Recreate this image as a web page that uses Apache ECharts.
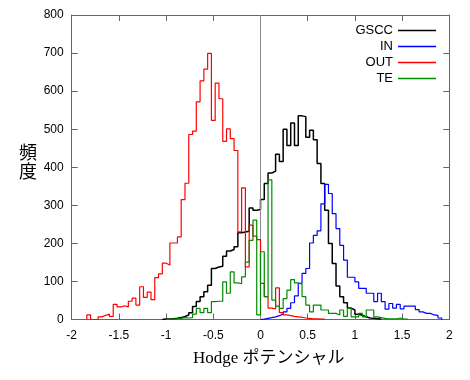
<!DOCTYPE html>
<html><head><meta charset="utf-8">
<script src="https://cdn.jsdelivr.net/npm/echarts@6/dist/echarts.min.js"></script>
<style>html,body{margin:0;padding:0;background:#fff}#c{width:470px;height:380px}</style>
</head><body><div id="c"></div>
<script>
// Histogram bins: width 0.04, first edge of each series given separately
const BIN_WIDTH = 0.04;
const X_TICKS = [-2, -1.5, -1, -0.5, 0, 0.5, 1, 1.5, 2];
const Y_TICKS = [0, 100, 200, 300, 400, 500, 600, 700, 800];
const SERIES_NAMES = ['GSCC', 'IN', 'OUT', 'TE'];

const GSCC_START = -1.04;
const GSCC = [1,1,2,3,5,8,12,18,34,47,60,73,90,134,138,140,166,180,184,191,228,230,232,293,287,289,315,357,385,390,434,415,500,457,516,457,535,533,479,497,472,410,357,287,200,147,88,60,44,30,25,14,11,7,4,3,2,1];

const IN_START = 0.00;
const IN = [1,3,5,7,10,14,20,29,44,62,95,121,134,201,221,233,304,355,331,278,239,195,156,111,111,99,82,82,69,69,47,69,47,27,42,30,40,28,35,35,35,26,20,16,16,12,11,4];

const OUT_START = -1.84;
const OUT = [12,0,0,7,11,14,8,40,33,36,33,48,56,38,86,58,72,52,110,120,148,143,201,201,217,315,358,486,495,572,627,658,699,523,621,580,468,501,475,444,230,346,138,248,219,210,95,60,30,28,83,18,12,10,8,7,6,4,3,2,2,1,1];

const TE_START = -1.00;
const TE = [1,1,2,3,5,4,5,14,29,18,29,18,47,48,48,99,69,125,96,94,112,151,208,261,12,178,60,367,51,35,29,55,77,105,96,93,60,38,20,38,38,25,25,16,16,12,25,8,29,7,7,16,7,25,25,7,5,3,2,2,2,4,2,1];

const COLORS = ['#000000', '#0000ff', '#ff0000', '#008a00'];

function steps(start, counts) {
  const pts = [[start, 0]];
  for (let i = 0; i < counts.length; i++) pts.push([start + i * BIN_WIDTH, counts[i]]);
  pts.push([start + counts.length * BIN_WIDTH, 0]);
  return pts;
}

const chart = echarts.init(document.getElementById('c'), null, {renderer: 'canvas'});
const tickFont = {fontFamily: 'Liberation Sans, Arial, sans-serif', fontSize: 12, color: '#000'};
const frame = {lineStyle: {color: '#666', width: 1}};
function xAx(pos, show) {
  return {type: 'value', position: pos, min: X_TICKS[0], max: X_TICKS[X_TICKS.length-1], interval: 0.5,
    axisLine: {show: true, onZero: false, ...frame}, axisTick: {show: true, inside: true, length: 6, lineStyle: {color: '#666'}},
    splitLine: {show: false},
    axisLabel: show ? {...tickFont, margin: 10, formatter: v => String(v)} : {show: false}};
}
function yAx(pos, show) {
  return {type: 'value', position: pos, min: Y_TICKS[0], max: Y_TICKS[Y_TICKS.length-1], interval: 100,
    axisLine: {show: true, onZero: false, ...frame}, axisTick: {show: true, inside: true, length: 6, lineStyle: {color: '#666'}},
    splitLine: {show: false},
    axisLabel: show ? {...tickFont, margin: 8} : {show: false}};
}
const starts = [GSCC_START, IN_START, OUT_START, TE_START];
const counts = [GSCC, IN, OUT, TE];
const series = SERIES_NAMES.map((n, i) => ({
  name: n, type: 'line', step: 'end', symbol: 'none', data: steps(starts[i], counts[i]),
  lineStyle: {color: COLORS[i], width: i === 0 ? 1.5 : 1.2}, itemStyle: {color: COLORS[i]},
  animation: false, z: 3 + i
}));
series[0].markLine = {silent: true, symbol: 'none', label: {show: false},
  lineStyle: {color: '#888', width: 1, type: 'solid'}, data: [{xAxis: 0}]};

chart.setOption({
  animation: false,
  grid: {left: 71.7, right: 20.7, top: 15, bottom: 60.5},
  xAxis: [xAx('bottom', true), xAx('top', false)],
  yAxis: [yAx('left', true), yAx('right', false)],
  legend: {orient: 'vertical', align: 'right', right: 34, top: 23.5, padding: 0,
    itemWidth: 38, itemHeight: 14, itemGap: 2, symbolKeepAspect: true,
    icon: 'path://M0,0H38V1.5H0Z',
    textStyle: {fontFamily: 'Liberation Sans, Arial, sans-serif', fontSize: 13, color: '#000', lineHeight: 14},
    data: SERIES_NAMES},
  graphic: [
    {type: 'text', x: 268.8, y: 358.5, style: {text: 'Hodge ポテンシャル', font: '17px "Liberation Serif", "Noto Sans CJK JP", serif', fill: '#000', align: 'center', verticalAlign: 'middle'}},
    {type: 'text', x: 28, y: 162, style: {text: '頻\n度', font: '18px "Noto Sans CJK JP", serif', fill: '#000', align: 'center', verticalAlign: 'middle', lineHeight: 19}}
  ],
  series: series
});
</script></body></html>
